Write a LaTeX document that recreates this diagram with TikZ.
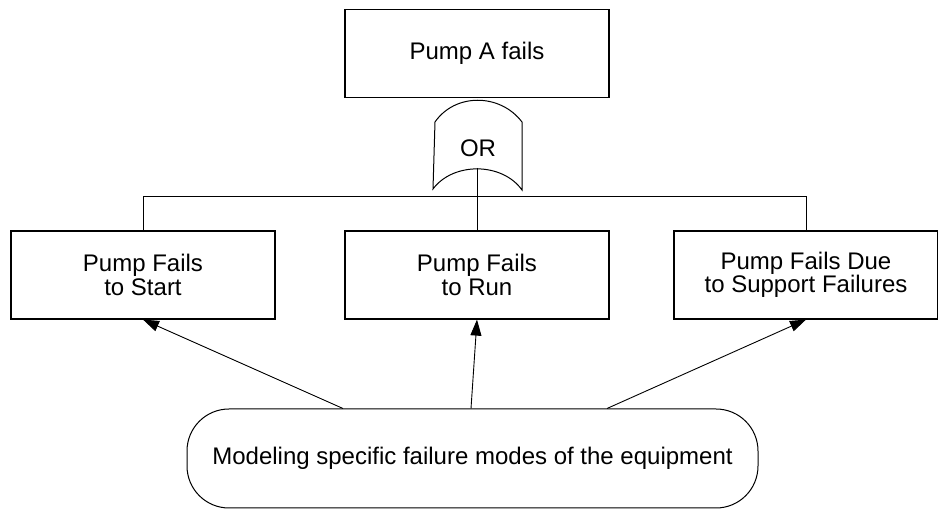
\documentclass[tikz,border=0pt]{standalone}
\usepackage{fontspec}
\setmainfont{Liberation Sans}
\usetikzlibrary{arrows.meta}

\begin{document}
\begin{tikzpicture}[x=1pt, y=-1pt, font=\fontsize{24}{23.5}\selectfont,
    caja/.style={draw, line width=1.2, minimum width=264, minimum height=88, align=center, inner sep=0},
    flecha/.style={-{Triangle[length=16,width=11]}, line width=0.9}]
    \useasboundingbox (0,0) rectangle (938,510);

    % Evento superior
    \node[caja] (pumpA) at (477,53.5) {Pump A fails};

    % Puerta OR
    \draw[line width=1] (435,122) .. controls (455,93) and (500,93) .. (522,122)
        -- (522,190) .. controls (502,162) and (453,162) .. (433,189) -- cycle;
    \node (orgate) at (478,148) {OR};
    \coordinate (orout) at (477,168);

    % Eventos intermedios
    \node[caja] (start) at (143,275) {Pump Fails\\to Start};
    \node[caja] (run) at (477,275) {Pump Fails\\to Run};
    \node[caja] (support) at (806,275) {Pump Fails Due\\to Support Failures};

    % Conexiones
    \draw (orout) -- (run.north);
    \draw (start.north) -- ++(0,-34) -| (support.north);

    % Modelado
    \node[draw, rounded corners=42, minimum width=571, minimum height=99, line width=1] (model)
        at (472.5,458.5) {Modeling specific failure modes of the equipment};

    % Flechas
    \draw[flecha] ([xshift=-129.5]model.north) -- (start.south);
    \draw[flecha] ([xshift=-1.5]model.north) -- (run.south);
    \draw[flecha] ([xshift=134.5]model.north) -- (support.south);
\end{tikzpicture}
\end{document}
